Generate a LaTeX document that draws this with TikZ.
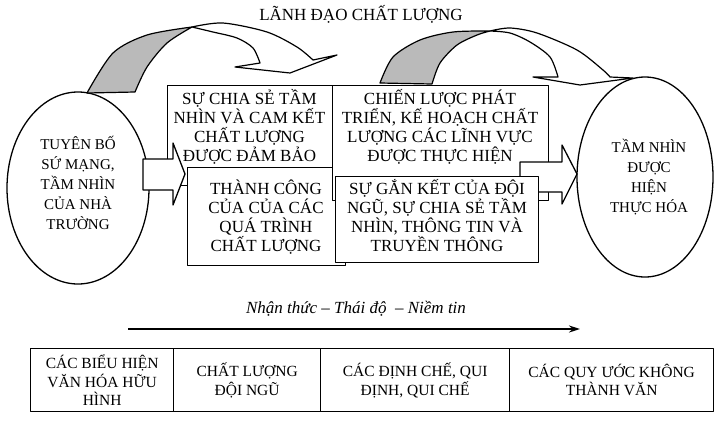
\documentclass[tikz,border=0pt]{standalone}
\usepackage{fontspec}
\setmainfont{Liberation Serif}
\usetikzlibrary{arrows.meta,shapes.geometric}
\begin{document}
\begin{tikzpicture}[x=1pt,y=-1pt,line join=round,
  box/.style={draw,line width=1.3pt,fill=white,inner sep=0pt,anchor=north west},
  cell/.style={draw,line width=1.3pt,inner sep=0pt,anchor=north west,align=center,
    font=\fontsize{15.5}{18.5}\selectfont},
  boxtext/.style={align=center,inner sep=0pt,font=\fontsize{17}{19}\selectfont},
  elltext/.style={align=center,inner sep=0pt,font=\fontsize{15}{20}\selectfont},
  ell/.style={draw,ellipse,line width=1.3pt,inner sep=0pt},
  backside/.style={fill=black!27,draw,line width=1.2pt},
  band/.style={fill=white,draw,line width=1.2pt},
  blockarrow/.style={fill=white,draw,line width=1.3pt}]
\useasboundingbox (0,0) rectangle (715,424);

% title
\node[boxtext] (title) at (361,14) {LÃNH ĐẠO CHẤT LƯỢNG};

% ellipses
\node[ell,minimum width=142pt,minimum height=192pt] (leftell) at (78,188) {};
\node[elltext] (lefttxt) at (78,183) {TUYÊN BỐ\\SỨ MẠNG,\\TẦM NHÌN\\CỦA NHÀ\\TRƯỜNG};
\node[ell,minimum width=136pt,minimum height=200pt] (rightell) at (645,177) {};
\node[elltext] (righttxt) at (649,177) {TẦM NHÌN\\ĐƯỢC\\HIỆN\\THỰC HÓA};

% left curved arrow
\filldraw[backside] plot[smooth] coordinates {(87,93) (113,53) (147,35) (192,27)}
  -- plot[smooth] coordinates {(192,27) (167,43) (147,67) (135,92)} -- cycle;
\filldraw[band] plot[smooth] coordinates {(192,27) (223,23) (267,32) (297,47) (313,60)}
  -- (337,55) -- (290,73) -- (235,67) -- (260,63)
  -- plot[smooth] coordinates {(260,63) (253,48) (237,38) (213,32) (192,27)} -- cycle;

% right curved arrow
\filldraw[backside] plot[smooth] coordinates {(380,83) (393,57) (420,40) (453,32) (490,31)}
  -- plot[smooth] coordinates {(490,31) (477,35) (457,45) (440,63) (432,84)} -- cycle;
\filldraw[band] plot[smooth] coordinates {(490,31) (510,28) (537,33) (577,50) (603,70) (610,77)}
  -- (633,78) -- (580,85) -- (533,77) -- (558,77)
  -- plot[smooth] coordinates {(558,77) (550,57) (530,42) (510,33) (490,31)} -- cycle;

% box 1
\node[box,minimum width=165pt,minimum height=100pt] (b1) at (167,85) {};
\node[boxtext] (t1) at (249.5,127) {SỰ CHIA SẺ TẦM\\NHÌN VÀ CAM KẾT\\CHẤT LƯỢNG\\ĐƯỢC ĐẢM BẢO};

% left block arrow
\filldraw[blockarrow] (143,159) -- (173,159) -- (173,143) -- (185,174) -- (173,205)
  -- (173,190) -- (143,190) -- cycle;

% box 2
\node[box,minimum width=158pt,minimum height=98pt] (b2) at (187,167) {};
\node[boxtext] (t2) at (266,217) {THÀNH CÔNG\\CỦA CỦA CÁC\\QUÁ TRÌNH\\CHẤT LƯỢNG};

% box 3
\node[box,minimum width=216pt,minimum height=115pt] (b3) at (332,85) {};
\node[boxtext] (t3) at (440,127) {CHIẾN LƯỢC PHÁT\\TRIỂN, KẾ HOẠCH CHẤT\\LƯỢNG CÁC LĨNH VỰC\\ĐƯỢC THỰC HIỆN};

% right block arrow
\filldraw[blockarrow] (520,162) -- (562,162) -- (562,145) -- (577,174) -- (562,204)
  -- (562,192) -- (520,192) -- cycle;

% box 4
\node[box,minimum width=203pt,minimum height=86pt] (b4) at (335,176) {};
\node[boxtext] (t4) at (437,216) {SỰ GẮN KẾT CỦA ĐỘI\\NGŨ, SỰ CHIA SẺ TẦM\\NHÌN, THÔNG TIN VÀ\\TRUYỀN THÔNG};

% attitude line
\node[inner sep=0pt,font=\fontsize{17}{19}\selectfont\itshape] (att) at (356,309) {Nhận thức -- Thái độ \ -- Niềm tin};
\coordinate (arrL) at (128,329);
\coordinate (arrR) at (580,329);
\draw[line width=1.7pt,-{Stealth[length=11pt,width=7pt]}] (arrL) -- (arrR);

% table
\node[cell,minimum width=143pt,minimum height=63pt] (c1) at (30,348) {CÁC BIỂU HIỆN\\VĂN HÓA HỮU\\HÌNH};
\node[cell,minimum width=147pt,minimum height=63pt] (c2) at (173,348) {CHẤT LƯỢNG\\ĐỘI NGŨ};
\node[cell,minimum width=189pt,minimum height=63pt] (c3) at (320,348) {CÁC ĐỊNH CHẾ, QUI\\ĐỊNH, QUI CHẾ};
\node[cell,minimum width=204pt,minimum height=63pt] (c4) at (509,348) {CÁC QUY ƯỚC KHÔNG\\THÀNH VĂN};
\end{tikzpicture}
\end{document}
